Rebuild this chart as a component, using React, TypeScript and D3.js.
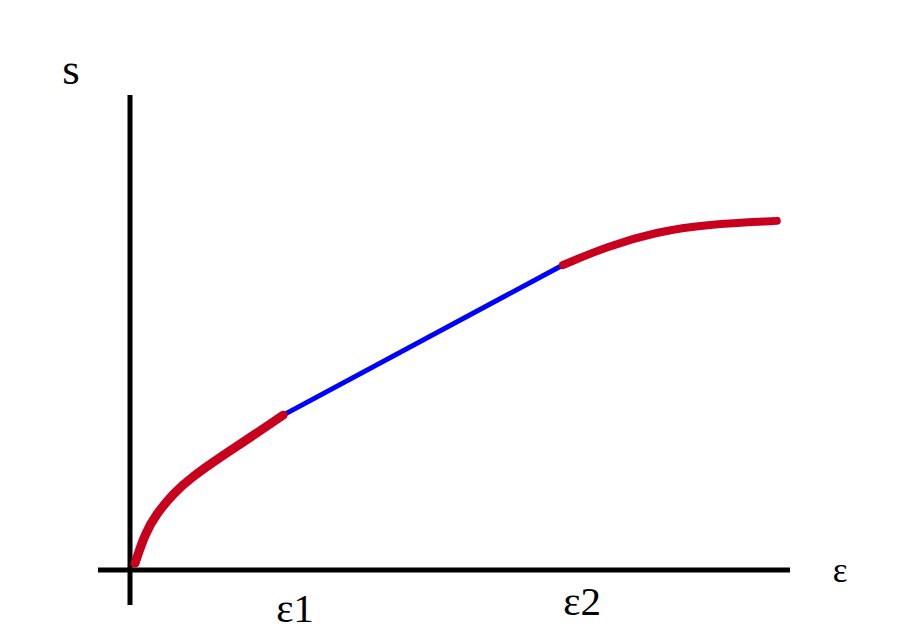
import React from "react";
import * as d3 from "d3";

const W = 899;
const H = 638;

// strain (x) and stress (y) values, arbitrary units 0..10
const elasticStartX = [0.076, 0.227, 0.405, 0.656, 0.909, 1.414, 1.92, 2.32];
const elasticStartY = [0.14, 0.77, 1.19, 1.61, 1.93, 2.42, 2.88, 3.26];
const linearX = [2.32, 6.56];
const linearY = [3.26, 6.42];
const hardeningX = [6.56, 7.22, 7.98, 8.74, 9.8];
const hardeningY = [6.42, 6.81, 7.12, 7.28, 7.35];

const tickLabels = ["ε1", "ε2"];
const tickValues = [2.5, 6.85];
const yAxisTitle = "s";
const xAxisTitle = "ε";

const LABEL_BASELINES = [622, 615];
const FONT = "'Liberation Serif'";

export default function App() {
  const x = d3.scaleLinear().domain([0, 10]).range([130, 790]);
  const y = d3.scaleLinear().domain([0, 10]).range([570, 95]);

  const line = d3
    .line<[number, number]>()
    .x((d) => x(d[0]))
    .y((d) => y(d[1]))
    .curve(d3.curveBasis);

  const seg1 = elasticStartX.map((v, i) => [v, elasticStartY[i]] as [number, number]);
  const seg2 = linearX.map((v, i) => [v, linearY[i]] as [number, number]);
  const seg3 = hardeningX.map((v, i) => [v, hardeningY[i]] as [number, number]);

  const red = "#c8001e";
  const pad = (s: string) => ` ${s} `;
  const textStyle = { whiteSpace: "pre" as const };

  return (
    <svg width={W} height={H} style={{ position: "absolute", left: 0, top: 0 }}>
      <line x1={x(0)} x2={x(0)} y1={y(10)} y2={605} stroke="#000" strokeWidth={5} />
      <line x1={98} x2={x(10)} y1={y(0)} y2={y(0)} stroke="#000" strokeWidth={5} />

      <path d={line(seg2) || ""} fill="none" stroke="#0000ff" strokeWidth={5} />
      <path d={line(seg1) || ""} fill="none" stroke={red} strokeWidth={9} strokeLinecap="round" />
      <path d={line(seg3) || ""} fill="none" stroke={red} strokeWidth={8} strokeLinecap="round" />

      <text x={71} y={84} fontSize={45} fontFamily={FONT} textAnchor="middle" style={textStyle}>
        {pad(yAxisTitle)}
      </text>
      <text x={840} y={582} fontSize={35} fontFamily={FONT} textAnchor="middle" style={textStyle}>
        {pad(xAxisTitle)}
      </text>
      {tickLabels.map((t, i) => (
        <text
          key={t}
          x={x(tickValues[i])}
          y={LABEL_BASELINES[i]}
          fontSize={41}
          fontFamily={FONT}
          textAnchor="middle"
          style={textStyle}
        >
          {pad(t)}
        </text>
      ))}
    </svg>
  );
}
